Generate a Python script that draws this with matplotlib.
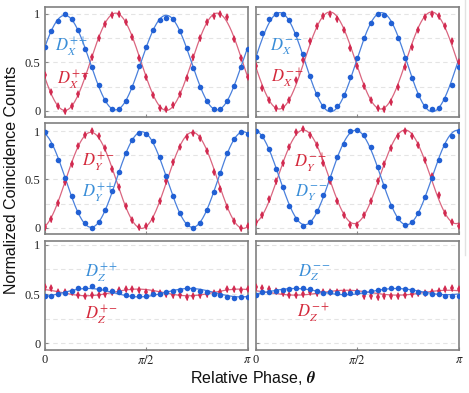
import numpy as np
import matplotlib
import matplotlib.pyplot as plt
from matplotlib.lines import Line2D

matplotlib.use('Agg')
plt.rcParams['mathtext.fontset'] = 'stix'

# Relative phase grid, in units of pi (31 settings, 6 degree steps)
phase = np.arange(31) / 30

# X basis
dx_pp = [0.66, 0.82, 0.93, 1.00, 0.95, 0.84, 0.64, 0.45, 0.27, 0.11, 0.02, 0.02, 0.10, 0.25, 0.46, 0.66,
         0.84, 0.94, 0.96, 0.95, 0.82, 0.65, 0.44, 0.25, 0.10, 0.02, 0.02, 0.10, 0.26, 0.45, 0.64]
dx_pm = [0.37, 0.20, 0.05, 0.00, 0.05, 0.17, 0.36, 0.56, 0.75, 0.90, 0.99, 1.00, 0.92, 0.76, 0.55, 0.35,
         0.16, 0.03, 0.02, 0.06, 0.17, 0.34, 0.56, 0.75, 0.92, 0.98, 1.00, 0.97, 0.74, 0.55, 0.35]
dx_mm = [0.56, 0.80, 0.95, 1.00, 1.00, 0.94, 0.79, 0.59, 0.36, 0.17, 0.05, 0.02, 0.05, 0.16, 0.35, 0.55,
         0.75, 0.91, 1.00, 0.99, 0.91, 0.75, 0.55, 0.34, 0.16, 0.05, 0.02, 0.03, 0.12, 0.27, 0.45]
dx_mp = [0.46, 0.24, 0.11, 0.03, 0.04, 0.11, 0.32, 0.53, 0.72, 0.88, 0.98, 1.00, 0.95, 0.84, 0.65, 0.46,
         0.26, 0.11, 0.03, 0.02, 0.09, 0.25, 0.45, 0.66, 0.84, 0.97, 1.00, 0.98, 0.88, 0.72, 0.50]

# Y basis
dy_pp = [0.99, 0.86, 0.70, 0.52, 0.33, 0.16, 0.05, 0.00, 0.06, 0.18, 0.38, 0.58, 0.77, 0.91, 0.98, 0.97,
         0.90, 0.73, 0.54, 0.33, 0.15, 0.04, 0.00, 0.05, 0.18, 0.37, 0.57, 0.77, 0.92, 0.99, 0.97]
dy_pm = [0.01, 0.09, 0.26, 0.47, 0.66, 0.85, 0.96, 1.00, 0.95, 0.82, 0.61, 0.42, 0.23, 0.08, 0.01, 0.02,
         0.09, 0.28, 0.48, 0.68, 0.84, 0.94, 0.98, 0.93, 0.79, 0.58, 0.40, 0.22, 0.07, 0.00, 0.02]
dy_mm = [1.00, 0.95, 0.81, 0.61, 0.42, 0.23, 0.09, 0.02, 0.06, 0.17, 0.34, 0.52, 0.73, 0.87, 1.00, 1.01,
         0.96, 0.84, 0.63, 0.43, 0.23, 0.10, 0.03, 0.06, 0.15, 0.32, 0.52, 0.70, 0.86, 0.95, 1.00]
dy_mp = [0.06, 0.13, 0.30, 0.48, 0.67, 0.84, 0.99, 1.02, 0.96, 0.86, 0.67, 0.48, 0.28, 0.13, 0.03, 0.03,
         0.13, 0.28, 0.48, 0.66, 0.82, 0.95, 1.00, 0.95, 0.86, 0.70, 0.54, 0.34, 0.15, 0.06, 0.02]

# Z basis
dz_pp = [0.48, 0.48, 0.50, 0.51, 0.53, 0.56, 0.56, 0.58, 0.55, 0.55, 0.53, 0.52, 0.49, 0.48, 0.48, 0.48,
         0.50, 0.50, 0.52, 0.53, 0.54, 0.56, 0.55, 0.53, 0.52, 0.50, 0.49, 0.47, 0.46, 0.47, 0.47]
dz_pm = [0.57, 0.56, 0.52, 0.52, 0.52, 0.49, 0.48, 0.49, 0.49, 0.50, 0.52, 0.54, 0.55, 0.55, 0.54, 0.52,
         0.52, 0.51, 0.50, 0.49, 0.49, 0.47, 0.48, 0.49, 0.50, 0.51, 0.52, 0.55, 0.55, 0.54, 0.55]
dz_mm = [0.49, 0.52, 0.52, 0.53, 0.54, 0.55, 0.56, 0.56, 0.55, 0.53, 0.51, 0.52, 0.51, 0.50, 0.51, 0.52,
         0.52, 0.53, 0.54, 0.55, 0.56, 0.56, 0.55, 0.54, 0.52, 0.51, 0.50, 0.50, 0.48, 0.48, 0.48]
dz_mp = [0.57, 0.56, 0.55, 0.53, 0.51, 0.49, 0.49, 0.50, 0.52, 0.51, 0.52, 0.52, 0.52, 0.52, 0.52, 0.52,
         0.48, 0.48, 0.47, 0.48, 0.48, 0.48, 0.49, 0.50, 0.51, 0.51, 0.52, 0.53, 0.55, 0.56, 0.55]

BLUE = '#2160d4'
BLUE_LINE = '#4a80dc'
BLUE_TXT = '#3a8ed8'
RED = '#d22a50'
RED_LINE = '#da6680'
RED_TXT = '#d42a3c'

W, H = 469, 393


def fit_curve(vals, th):
    # least squares fit of c + a cos(4 theta) + b sin(4 theta)
    t = phase * np.pi
    A = np.column_stack([np.ones_like(t), np.cos(4 * t), np.sin(4 * t)])
    c = np.linalg.lstsq(A, np.asarray(vals), rcond=None)[0]
    return c[0] + c[1] * np.cos(4 * th) + c[2] * np.sin(4 * th)


# panel boxes in pixels: (left, right) per column, (top, bottom, ylim) per row
cols = [(44.5, 247.5), (255.5, 459)]
rows = [(7, 117, (-0.062, 1.072)), (123, 233.5, (-0.058, 1.083)), (241, 350, (-0.07, 1.04))]

panels = [
    [(dx_pp, dx_pm, r'$D_X^{++}$', r'$D_X^{+-}$', (0.052, 0.636), (0.06, 0.336)),
     (dx_mm, dx_mp, r'$D_X^{--}$', r'$D_X^{-+}$', (0.071, 0.636), (0.075, 0.355))],
    [(dy_pp, dy_pm, r'$D_Y^{++}$', r'$D_Y^{+-}$', (0.185, 0.366), (0.185, 0.647)),
     (dy_mm, dy_mp, r'$D_Y^{--}$', r'$D_Y^{-+}$', (0.194, 0.366), (0.189, 0.638))],
    [(dz_pp, dz_pm, r'$D_Z^{++}$', r'$D_Z^{+-}$', (0.2, 0.706), (0.2, 0.32)),
     (dz_mm, dz_mp, r'$D_Z^{--}$', r'$D_Z^{-+}$', (0.209, 0.706), (0.204, 0.34))],
]

fig = plt.figure(figsize=(W / 100, H / 100), dpi=100)
th = np.linspace(0, np.pi, 400)
theta = phase * np.pi

for r, (top, bot, ylim) in enumerate(rows):
    for c, (left, right) in enumerate(cols):
        ax = fig.add_axes([left / W, 1 - bot / H, (right - left) / W, (bot - top) / H])
        blue, red, lb, lr, pb, pr = panels[r][c]

        for yy in [0, 0.25, 0.5, 0.75, 1]:
            ax.axhline(yy, color='#e4e4e4', lw=0.8, ls=(0, (4, 3)), zorder=0)

        ax.plot(th, fit_curve(red, th), color=RED_LINE, lw=0.9, zorder=2)
        ax.plot(th, fit_curve(blue, th), color=BLUE_LINE, lw=0.9, zorder=2)
        ax.errorbar(theta, red, yerr=0.03, fmt='d', ms=3.8, mew=0, color=RED, ecolor=RED,
                    elinewidth=0.8, capsize=0, zorder=3)
        ax.plot(theta, blue, 'o', ms=4.0, mew=0, color=BLUE, zorder=4)

        ax.text(pb[0], pb[1], lb, transform=ax.transAxes, color=BLUE_TXT,
                fontsize=12, ha='left', va='center')
        ax.text(pr[0], pr[1], lr, transform=ax.transAxes, color=RED_TXT,
                fontsize=12, ha='left', va='center')

        ax.set_xlim(0, np.pi)
        ax.set_ylim(*ylim)
        ax.set_xticks([0, np.pi / 2, np.pi])
        ax.set_yticks([0, 0.5, 1])
        ax.tick_params(direction='in', length=2, width=0.8, color='#888888',
                       labelsize=9, labelcolor='#222222', pad=3)
        for s in ax.spines.values():
            s.set_color('#808080')
            s.set_linewidth(1.2)

        if c == 0:
            ax.set_yticklabels(['0', '0.5', '1'], family='Liberation Serif')
        else:
            ax.set_yticklabels([])
        if r == 2:
            ax.set_xticklabels(['0', r'$\pi/2$', r'$\pi$'], family='Liberation Serif')
        else:
            ax.set_xticklabels([])

fig.text(12 / W, 1 - 180 / H, 'Normalized Coincidence Counts', rotation=90,
         ha='center', va='center', fontsize=11.5, family='Liberation Sans', color='#111111')
fig.text(253 / W, 1 - 378 / H, r'Relative Phase, $\boldsymbol{\theta}$',
         ha='center', va='center', fontsize=11.5, family='Liberation Sans', color='#111111')
fig.add_artist(Line2D([465 / W, 465 / W], [0.35, 1], color='#e2e2e2', lw=1))

fig.savefig('out.png', dpi=100)
